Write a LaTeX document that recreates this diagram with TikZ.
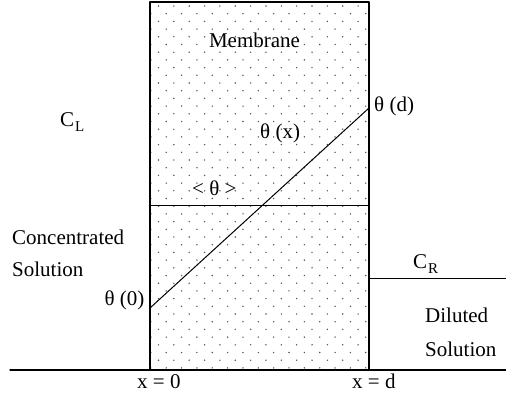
\documentclass[tikz,border=0pt]{standalone}
\usepackage{fontspec}
\setmainfont{Liberation Serif}
\newcommand{\subtxt}[1]{\kern1pt\raisebox{-5.5pt}{\fontsize{15}{15}\selectfont #1}}

\begin{document}
\begin{tikzpicture}[x=1pt,y=-1pt,line join=round,line cap=round,
  lbl/.style={inner sep=0pt,font=\fontsize{21}{25}\selectfont}]
  \useasboundingbox (0,0) rectangle (506,396);

  % ---- membrane dots ----
  \definecolor{dotgray}{RGB}{85,85,85}
  \begin{scope}
    \clip (150,2) rectangle (369,370);
    \foreach \k in {0,...,47} {
      \pgfmathsetmacro{\yy}{6+7.7*\k}
      \pgfmathsetmacro{\xo}{158.5-7.65*mod(\k,2)}
      \foreach \j in {0,...,14}
        \fill[dotgray] (\xo+15.35*\j,\yy) circle[radius=0.8pt];
    }
  \end{scope}

  % ---- membrane box + mean line ----
  \draw[line width=1.2pt] (150,2) rectangle (369,370);
  \draw[line width=1pt] (150,205) -- (369,205);

  % ---- profile theta(x) ----
  \coordinate (t0) at (150,308);
  \coordinate (td) at (369,108);
  \draw[line width=1pt] (t0) -- (td);

  % ---- ground line + right level ----
  \draw[line width=1.3pt] (10,370) -- (506,370);
  \draw[line width=1pt] (369,278) -- (506,278);

  % ---- labels in the membrane ----
  \node[lbl,anchor=base] (memb) at (254.5,48) {Membrane};
  \node[lbl,anchor=base west] (thx) at (260,138) {θ (x)};
  \node[lbl,anchor=base west] (thm) at (192,195) {< θ >};
  \node[lbl,anchor=base west] (thd) at (374,111.5) {θ (d)};
  \node[lbl,anchor=base east] (th0) at (144.5,305) {θ (0)};

  % ---- left side ----
  \node[lbl,anchor=base west] (cl) at (60,126) {C\subtxt{L}};
  \node[lbl,anchor=base west] (conc) at (12,244) {Concentrated};
  \node[lbl,anchor=base west] (solL) at (12,276.5) {Solution};

  % ---- right side ----
  \node[lbl,anchor=base west] (cr) at (413,268) {C\subtxt{R}};
  \node[lbl,anchor=base west] (dil) at (425,322.5) {Diluted};
  \node[lbl,anchor=base west] (solR) at (425,356) {Solution};

  % ---- axis marks ----
  \node[lbl,anchor=base west] (x0) at (137,388.5) {x = 0};
  \node[lbl,anchor=base west] (xd) at (352,388.5) {x = d};

\end{tikzpicture}
\end{document}
